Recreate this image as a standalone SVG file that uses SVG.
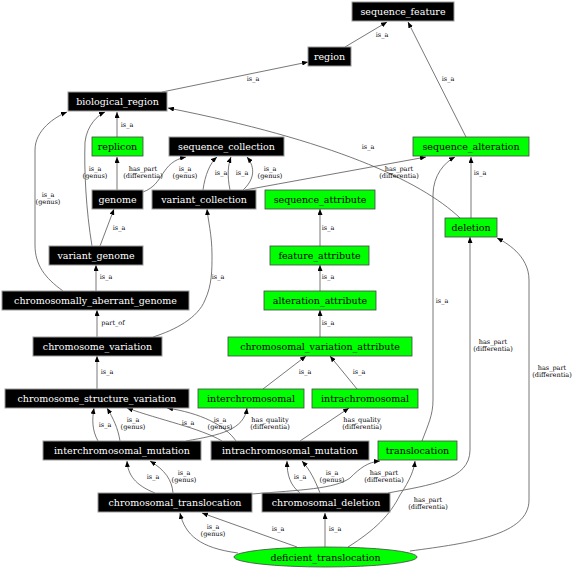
<svg xmlns="http://www.w3.org/2000/svg" width="576" height="571" viewBox="0 0 576 571">
<defs>
<marker id="a" markerWidth="6" markerHeight="5" refX="6" refY="2.5" orient="auto" markerUnits="userSpaceOnUse"><path d="M0,0 L6,2.5 L0,5z" fill="#000"/></marker>
</defs>
<style>
.b rect{fill:#000;stroke:#999;stroke-width:1}
.b text{fill:#fff}
.g rect,.g ellipse{fill:#00ff00;stroke:#444;stroke-width:0.8}
.g text{fill:#000}
.n text{font-family:"DejaVu Serif",serif;font-size:9.5px;text-anchor:middle}
#edges path{fill:none;stroke:#555;stroke-width:0.8;marker-end:url(#a)}
#labels text{font-family:"DejaVu Serif",serif;font-size:6.5px;text-anchor:middle;fill:#000}
</style>
<rect width="576" height="571" fill="#fff"/>
<g id="edges">
<path d="M345,47 L387,22"/>
<path d="M466,137 L408,22"/>
<path d="M162,92 L308,62"/>
<path d="M117,137 L117,112"/>
<path d="M92,246 C86,210 84,170 85,142 C87,125 98,115 105,112"/>
<path d="M63,291 C45,278 35,265 35,245 L35,150 C35,130 55,117 67,112"/>
<path d="M117,190 L117,157"/>
<path d="M143,192 C165,184 160,162 186,157"/>
<path d="M203,190 C205,175 210,163 217,157"/>
<path d="M230,190 C227,175 228,165 231,157"/>
<path d="M243,190 C254,180 256,168 247,157"/>
<path d="M245,190 L426,157"/>
<path d="M460,218 C420,180 330,140 168,108"/>
<path d="M471,218 L471,157"/>
<path d="M422,441 C428,425 433,415 433,400 L433,195 C433,175 445,162 455,157"/>
<path d="M320,246 L320,209"/>
<path d="M320,291 L320,265"/>
<path d="M320,337 L320,310"/>
<path d="M263,389 L306,356"/>
<path d="M357,389 L330,356"/>
<path d="M100,246 L114,209"/>
<path d="M96,291 L96,265"/>
<path d="M153,337 C175,330 198,318 205,300 C212,285 212,270 212,255 C212,235 208,220 207,209"/>
<path d="M97,337 L97,310"/>
<path d="M97,389 L97,356"/>
<path d="M98,441 C92,430 92,420 94,408"/>
<path d="M120,441 C118,428 113,418 107,408"/>
<path d="M222,441 C200,428 160,420 127,408"/>
<path d="M236,441 C225,425 200,413 167,408"/>
<path d="M186,441 C220,435 244,430 247,408"/>
<path d="M300,441 L349,408"/>
<path d="M155,493 C135,485 128,475 127,461"/>
<path d="M173,493 C172,480 165,470 150,461"/>
<path d="M300,493 C290,485 287,475 287,461"/>
<path d="M320,493 C315,480 310,470 302,461"/>
<path d="M252,494 C300,490 335,489 350,478 C360,468 368,462 380,461"/>
<path d="M388,493 C430,485 470,480 470,450 L470,237"/>
<path d="M410,551 C470,543 529,535 529,500 L529,280 C529,255 505,242 497,238"/>
<path d="M348,547 C375,530 390,515 400,495 C410,480 414,470 415,461"/>
<path d="M325,547 L325,513"/>
<path d="M297,547 L202,513"/>
<path d="M238,553 C200,548 185,535 180,513"/>
</g>
<g id="labels">
<text x="382" y="37">is_a</text>
<text x="448" y="81">is_a</text>
<text x="253" y="81">is_a</text>
<text x="127" y="127">is_a</text>
<text x="95" y="171">is_a</text><text x="95" y="178">(genus)</text>
<text x="48" y="197">is_a</text><text x="48" y="204">(genus)</text>
<text x="143" y="171">has_part</text><text x="143" y="178">(differentia)</text>
<text x="185" y="171">is_a</text><text x="185" y="178">(genus)</text>
<text x="221" y="175">is_a</text>
<text x="242" y="175">is_a</text>
<text x="270" y="171">is_a</text><text x="270" y="178">(genus)</text>
<text x="399" y="171">has_part</text><text x="399" y="178">(differentia)</text>
<text x="368" y="149">is_a</text>
<text x="480" y="175">is_a</text>
<text x="442" y="303">is_a</text>
<text x="328" y="230">is_a</text>
<text x="328" y="279">is_a</text>
<text x="328" y="325">is_a</text>
<text x="305" y="374">is_a</text>
<text x="359" y="374">is_a</text>
<text x="119" y="230">is_a</text>
<text x="106" y="279">is_a</text>
<text x="218" y="279">is_a</text>
<text x="113" y="325">part_of</text>
<text x="107" y="374">is_a</text>
<text x="105" y="427">is_a</text>
<text x="133" y="422">is_a</text><text x="133" y="429">(genus)</text>
<text x="188" y="425">is_a</text>
<text x="220" y="422">is_a</text><text x="220" y="429">(genus)</text>
<text x="270" y="422">has_quality</text><text x="270" y="429">(differentia)</text>
<text x="362" y="422">has_quality</text><text x="362" y="429">(differentia)</text>
<text x="153" y="479">is_a</text>
<text x="184" y="475">is_a</text><text x="184" y="482">(genus)</text>
<text x="300" y="479">is_a</text>
<text x="332" y="475">is_a</text><text x="332" y="482">(genus)</text>
<text x="384" y="475">has_part</text><text x="384" y="482">(differentia)</text>
<text x="493" y="344">has_part</text><text x="493" y="351">(differentia)</text>
<text x="552" y="370">has_part</text><text x="552" y="377">(differentia)</text>
<text x="428" y="502">has_part</text><text x="428" y="509">(differentia)</text>
<text x="335" y="531">is_a</text>
<text x="278" y="531">is_a</text>
<text x="213" y="529">is_a</text><text x="213" y="536">(genus)</text>
</g>
<g id="sequence_feature" class="n b"><rect x="352" y="2" width="102" height="19"/><text x="403" y="15">sequence_feature</text></g>
<g id="region" class="n b"><rect x="308" y="47" width="43" height="19"/><text x="329.5" y="60">region</text></g>
<g id="biological_region" class="n b"><rect x="68" y="92" width="99" height="19"/><text x="117.5" y="105">biological_region</text></g>
<g id="replicon" class="n g"><rect x="92" y="137" width="51" height="19"/><text x="117.5" y="150">replicon</text></g>
<g id="sequence_collection" class="n b"><rect x="169" y="137" width="115" height="19"/><text x="226.5" y="150">sequence_collection</text></g>
<g id="sequence_alteration" class="n g"><rect x="413" y="137" width="116" height="19"/><text x="471" y="150">sequence_alteration</text></g>
<g id="genome" class="n b"><rect x="92" y="190" width="51" height="19"/><text x="117.5" y="203">genome</text></g>
<g id="variant_collection" class="n b"><rect x="152" y="190" width="104" height="19"/><text x="204" y="203">variant_collection</text></g>
<g id="sequence_attribute" class="n g"><rect x="265" y="190" width="110" height="19"/><text x="320" y="203">sequence_attribute</text></g>
<g id="deletion" class="n g"><rect x="445" y="218" width="52" height="19"/><text x="471" y="231">deletion</text></g>
<g id="variant_genome" class="n b"><rect x="49" y="246" width="94" height="19"/><text x="96" y="259">variant_genome</text></g>
<g id="feature_attribute" class="n g"><rect x="270" y="246" width="99" height="19"/><text x="319.5" y="259">feature_attribute</text></g>
<g id="chromosomally_aberrant_genome" class="n b"><rect x="2" y="291" width="187" height="19"/><text x="95.5" y="304">chromosomally_aberrant_genome</text></g>
<g id="alteration_attribute" class="n g"><rect x="264" y="291" width="112" height="19"/><text x="320" y="304">alteration_attribute</text></g>
<g id="chromosome_variation" class="n b"><rect x="33" y="337" width="129" height="19"/><text x="97.5" y="350">chromosome_variation</text></g>
<g id="chromosomal_variation_attribute" class="n g"><rect x="228" y="337" width="184" height="19"/><text x="320" y="350">chromosomal_variation_attribute</text></g>
<g id="chromosome_structure_variation" class="n b"><rect x="5" y="389" width="184" height="19"/><text x="97" y="402">chromosome_structure_variation</text></g>
<g id="interchromosomal" class="n g"><rect x="198" y="389" width="106" height="19"/><text x="251" y="402">interchromosomal</text></g>
<g id="intrachromosomal" class="n g"><rect x="312" y="389" width="106" height="19"/><text x="365" y="402">intrachromosomal</text></g>
<g id="interchromosomal_mutation" class="n b"><rect x="43" y="441" width="158" height="19"/><text x="122" y="454">interchromosomal_mutation</text></g>
<g id="intrachromosomal_mutation" class="n b"><rect x="211" y="441" width="158" height="19"/><text x="290" y="454">intrachromosomal_mutation</text></g>
<g id="translocation" class="n g"><rect x="378" y="441" width="79" height="19"/><text x="417.5" y="454">translocation</text></g>
<g id="chromosomal_translocation" class="n b"><rect x="98" y="493" width="154" height="19"/><text x="175" y="506">chromosomal_translocation</text></g>
<g id="chromosomal_deletion" class="n b"><rect x="262" y="493" width="128" height="19"/><text x="326" y="506">chromosomal_deletion</text></g>
<g id="deficient_translocation" class="n g"><ellipse cx="325.5" cy="557" rx="91.5" ry="10"/><text x="325.5" y="560.5">deficient_translocation</text></g>
</svg>
